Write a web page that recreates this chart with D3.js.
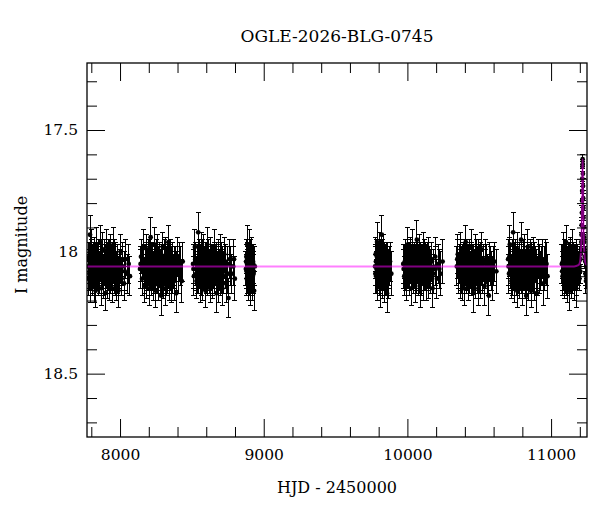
<!DOCTYPE html>
<html>
<head>
<meta charset="utf-8">
<script src="https://cdn.jsdelivr.net/npm/d3@7"></script>
<style>
  body { margin: 0; background: #fff; }
  svg text { font-family: "DejaVu Serif", serif; fill: #000; }
</style>
</head>
<body>
<div id="chart"></div>
<script>
// ----------------------------------------------
// Data: [HJD - 2450000, I mag, error], one array per observing season
// ----------------------------------------------
const season1 = [
  [7778,18.06,.07],[7782,18.11,.07],[7785,18.02,.06],[7789,18.08,.07],[7791,17.93,.08],[7793,18.13,.08],[7797,18.04,.06],[7800,18.09,.07],[7804,17.98,.07],[7808,18.12,.06],[7811,18.05,.07],[7815,18.02,.06],[7819,18.14,.07],[7822,18.00,.06],[7826,18.08,.07],[7830,18.16,.07],[7833,18.05,.06],[7837,17.97,.07],[7841,18.10,.06],[7844,18.06,.08],[7848,18.12,.06],[7852,18.01,.06],[7855,18.07,.07],[7859,18.11,.06],[7863,17.96,.07],[7866,18.06,.06],[7870,18.15,.07],[7874,18.03,.06],[7877,18.09,.06],[7881,17.99,.07],[7885,18.07,.06],[7888,18.12,.07],[7892,18.03,.06],[7896,18.17,.07],[7899,18.05,.06],[7903,18.09,.06],[7907,17.98,.07],[7910,18.13,.06],[7914,18.06,.07],[7918,18.01,.06],[7921,18.10,.06],[7925,18.07,.07],[7929,18.14,.06],[7932,18.00,.07],[7936,18.06,.06],[7940,18.10,.06],[7943,18.04,.07],[7947,18.15,.06],[7951,18.07,.06],[7954,17.97,.07],[7958,18.11,.06],[7962,18.05,.07],[7965,18.09,.06],[7969,18.02,.06],[7973,18.13,.07],[7976,18.06,.06],[7980,18.10,.07],[7984,18.03,.06],[7988,18.16,.07],[7993,18.05,.06],[7998,18.08,.07],[8004,18.00,.07],[8011,18.11,.07],[8019,18.06,.08],[8028,18.13,.07],[8038,18.03,.08],[8049,18.09,.08],[8060,18.05,.08],[8069,18.10,.08],
  [7780,18.03,.07],[7787,18.09,.07],[7795,18.06,.07],[7802,18.02,.07],[7806,18.10,.07],[7813,18.07,.07],[7817,18.04,.07],[7824,18.11,.07],[7828,18.03,.07],[7835,18.08,.07],[7839,18.05,.07],[7846,18.09,.07],[7850,18.04,.07],[7857,18.07,.07],[7861,18.02,.07],[7868,18.10,.07],[7872,18.06,.07],[7879,18.04,.07],[7883,18.11,.07],[7890,18.07,.07],[7894,18.02,.07],[7901,18.08,.07],[7905,18.05,.07],[7912,18.03,.07],[7916,18.09,.07],[7923,18.05,.07],[7927,18.02,.07],[7934,18.10,.07],[7938,18.07,.07],[7945,18.03,.07],[7949,18.09,.07],[7956,18.06,.07],[7960,18.02,.07],[7967,18.11,.07],[7971,18.05,.07],[7978,18.08,.07],[7982,18.04,.07],[7990,18.09,.07],[8001,18.06,.07],[8015,18.03,.07],[8033,18.08,.08]
];
const season2 = [
  [8139,18.07,.08],[8146,18.02,.07],[8153,18.11,.07],[8159,18.05,.07],[8164,17.98,.07],[8168,18.09,.06],[8172,18.14,.07],[8176,18.03,.06],[8180,18.07,.06],[8183,18.12,.07],[8187,17.99,.06],[8191,18.06,.07],[8194,18.10,.06],[8198,18.04,.06],[8202,18.15,.07],[8205,18.01,.06],[8209,18.08,.07],[8213,17.94,.08],[8216,18.12,.06],[8220,18.05,.06],[8224,18.09,.07],[8227,18.02,.06],[8231,18.13,.07],[8235,18.06,.06],[8238,17.97,.07],[8242,18.10,.06],[8246,18.05,.07],[8249,18.16,.07],[8253,18.03,.06],[8257,18.08,.06],[8260,18.00,.07],[8264,18.11,.06],[8268,18.06,.07],[8271,18.14,.06],[8275,18.02,.06],[8279,18.09,.07],[8282,18.05,.06],[8286,18.18,.08],[8290,18.04,.06],[8293,18.10,.07],[8297,17.98,.06],[8301,18.07,.06],[8304,18.12,.07],[8308,18.03,.06],[8312,18.08,.06],[8315,18.15,.07],[8319,18.01,.07],[8323,18.06,.06],[8326,18.11,.07],[8330,18.04,.06],[8334,18.09,.06],[8337,17.96,.07],[8341,18.13,.07],[8345,18.06,.06],[8348,18.02,.07],[8352,18.10,.06],[8356,18.07,.07],[8360,18.14,.07],[8365,18.03,.07],[8370,18.08,.07],[8376,18.12,.08],[8383,18.05,.07],[8391,18.17,.08],[8400,18.02,.08],[8410,18.09,.08],[8421,18.06,.08],[8430,18.12,.09],[8436,18.04,.08],
  [8143,18.05,.07],[8156,18.08,.07],[8166,18.04,.07],[8170,18.10,.07],[8178,18.06,.07],[8185,18.03,.07],[8189,18.09,.07],[8196,18.07,.07],[8200,18.02,.07],[8207,18.11,.07],[8211,18.05,.07],[8218,18.08,.07],[8222,18.03,.07],[8229,18.07,.07],[8233,18.10,.07],[8240,18.04,.07],[8244,18.08,.07],[8251,18.06,.07],[8255,18.02,.07],[8262,18.09,.07],[8266,18.05,.07],[8273,18.07,.07],[8277,18.03,.07],[8284,18.11,.07],[8288,18.06,.07],[8295,18.04,.07],[8299,18.09,.07],[8306,18.06,.07],[8310,18.02,.07],[8317,18.08,.07],[8321,18.05,.07],[8328,18.10,.07],[8332,18.03,.07],[8339,18.07,.07],[8343,18.04,.07],[8350,18.09,.07],[8358,18.05,.07],[8367,18.10,.07],[8379,18.06,.08],[8395,18.08,.08],[8415,18.04,.08]
];
const season3 = [
  [8508,18.05,.08],[8514,18.10,.08],[8521,17.98,.07],[8527,18.07,.07],[8532,18.12,.07],[8536,18.03,.06],[8540,18.08,.07],[8544,17.92,.08],[8547,18.11,.06],[8551,18.05,.07],[8555,18.01,.06],[8558,18.14,.07],[8562,18.06,.06],[8566,17.99,.07],[8569,18.09,.06],[8573,18.04,.06],[8577,18.13,.07],[8580,18.07,.06],[8584,18.00,.07],[8588,18.10,.06],[8591,18.05,.07],[8595,18.16,.07],[8599,18.02,.06],[8602,18.08,.06],[8606,17.97,.07],[8610,18.12,.06],[8613,18.06,.07],[8617,18.03,.06],[8621,18.11,.06],[8624,18.07,.07],[8628,18.15,.06],[8632,18.01,.07],[8635,18.06,.06],[8639,18.09,.06],[8643,18.04,.07],[8646,18.13,.06],[8650,18.07,.06],[8654,17.98,.07],[8657,18.11,.06],[8661,18.05,.07],[8665,18.08,.06],[8668,18.02,.06],[8672,18.17,.08],[8676,18.06,.06],[8679,18.10,.07],[8683,18.03,.06],[8687,18.14,.07],[8690,18.05,.06],[8694,18.09,.06],[8698,18.00,.07],[8701,18.12,.06],[8705,18.07,.07],[8709,18.04,.06],[8712,18.15,.07],[8716,18.06,.07],[8720,18.10,.07],[8725,18.01,.07],[8731,18.08,.07],[8738,18.13,.08],[8746,18.05,.07],[8755,18.19,.08],[8765,18.03,.08],[8776,18.09,.08],[8788,18.06,.08],[8799,18.11,.09],
  [8511,18.07,.08],[8524,18.03,.07],[8530,18.09,.07],[8538,18.05,.07],[8542,18.10,.07],[8549,18.03,.07],[8553,18.08,.07],[8560,18.04,.07],[8564,18.11,.07],[8571,18.06,.07],[8575,18.02,.07],[8582,18.09,.07],[8586,18.05,.07],[8593,18.07,.07],[8597,18.03,.07],[8604,18.10,.07],[8608,18.05,.07],[8615,18.08,.07],[8619,18.02,.07],[8626,18.06,.07],[8630,18.09,.07],[8637,18.04,.07],[8641,18.11,.07],[8648,18.05,.07],[8652,18.08,.07],[8659,18.03,.07],[8663,18.07,.07],[8670,18.10,.07],[8674,18.04,.07],[8681,18.07,.07],[8685,18.02,.07],[8692,18.09,.07],[8696,18.06,.07],[8703,18.03,.07],[8707,18.10,.07],[8714,18.05,.07],[8722,18.08,.07],[8735,18.04,.07],[8750,18.09,.08],[8770,18.06,.08],[8793,18.03,.08]
];
const season4 = [
  [8876,18.07,.07],[8879,18.02,.07],[8882,18.11,.07],[8885,17.97,.08],[8888,18.06,.07],[8891,18.13,.07],[8894,18.04,.06],[8897,18.09,.07],[8900,17.99,.08],[8903,18.08,.07],[8906,18.15,.07],[8909,18.05,.06],[8912,18.10,.07],[8915,18.01,.07],[8918,18.07,.07],[8921,18.12,.08],[8925,18.04,.07],[8929,18.09,.08],[8933,18.16,.08],[8938,18.06,.08],
  [8877,18.04,.07],[8881,18.08,.07],[8884,18.05,.07],[8887,18.10,.07],[8890,18.03,.07],[8893,18.07,.07],[8896,18.05,.07],[8899,18.11,.07],[8902,18.04,.07],[8905,18.08,.07],[8908,18.02,.07],[8911,18.06,.07],[8914,18.09,.07],[8917,18.04,.07],[8920,18.07,.07],[8923,18.10,.08],[8927,18.05,.08],[8931,18.08,.08]
];
const season5 = [
  [9775,18.06,.08],[9779,18.01,.07],[9783,18.10,.07],[9786,18.04,.07],[9789,17.96,.08],[9792,18.08,.07],[9795,18.13,.07],[9798,18.03,.06],[9801,18.07,.07],[9804,17.99,.07],[9807,18.11,.07],[9810,18.05,.06],[9813,18.15,.08],[9816,18.02,.07],[9819,18.08,.07],[9822,17.93,.08],[9825,18.06,.07],[9828,18.12,.07],[9831,18.04,.06],[9834,18.09,.07],[9837,18.00,.07],[9840,18.14,.07],[9844,18.06,.07],[9848,18.10,.08],[9853,18.03,.07],[9858,18.17,.08],[9864,18.07,.08],[9871,18.11,.08],[9879,18.04,.08],[9888,18.09,.09],
  [9777,18.09,.08],[9781,18.04,.07],[9785,18.07,.07],[9788,18.02,.07],[9791,18.10,.07],[9794,18.05,.07],[9797,18.08,.07],[9800,18.03,.07],[9803,18.09,.07],[9806,18.06,.07],[9809,18.02,.07],[9812,18.07,.07],[9815,18.10,.07],[9818,18.04,.07],[9821,18.08,.07],[9824,18.05,.07],[9827,18.02,.07],[9830,18.09,.07],[9833,18.06,.07],[9836,18.04,.07],[9839,18.08,.07],[9842,18.03,.07],[9846,18.07,.08],[9850,18.05,.08],[9856,18.09,.08],[9861,18.04,.08],[9868,18.07,.08],[9875,18.06,.08]
];
const season6 = [
  [9971,18.05,.08],[9978,18.10,.08],[9985,18.02,.07],[9991,18.08,.07],[9996,18.13,.07],[10000,18.04,.07],[10004,17.97,.07],[10008,18.09,.06],[10011,18.06,.07],[10015,18.12,.06],[10019,18.01,.07],[10022,18.07,.06],[10026,18.15,.07],[10030,18.03,.06],[10033,18.09,.06],[10037,17.98,.07],[10041,18.11,.06],[10044,18.05,.07],[10048,18.08,.06],[10052,18.02,.06],[10055,18.14,.07],[10059,18.06,.06],[10063,18.10,.07],[10066,17.95,.08],[10070,18.07,.06],[10074,18.12,.06],[10077,18.04,.07],[10081,18.09,.06],[10085,18.00,.07],[10088,18.16,.07],[10092,18.06,.06],[10096,18.03,.06],[10099,18.11,.07],[10103,18.05,.06],[10107,18.08,.06],[10110,17.99,.07],[10114,18.13,.07],[10118,18.06,.06],[10121,18.02,.07],[10125,18.10,.06],[10129,18.07,.07],[10132,18.14,.06],[10136,18.04,.07],[10140,18.09,.06],[10144,18.01,.07],[10149,18.12,.07],[10154,18.06,.07],[10160,18.10,.07],[10167,18.03,.07],[10175,18.15,.08],[10184,18.07,.08],[10194,18.02,.08],[10205,18.11,.08],[10217,18.05,.08],[10230,18.09,.09],[10245,18.04,.09],
  [9974,18.07,.08],[9982,18.04,.07],[9988,18.09,.07],[9994,18.05,.07],[9998,18.02,.07],[10002,18.08,.07],[10006,18.05,.07],[10013,18.03,.07],[10017,18.09,.07],[10020,18.06,.07],[10024,18.02,.07],[10028,18.08,.07],[10035,18.05,.07],[10039,18.10,.07],[10046,18.03,.07],[10050,18.07,.07],[10057,18.04,.07],[10061,18.09,.07],[10068,18.05,.07],[10072,18.02,.07],[10079,18.08,.07],[10083,18.06,.07],[10090,18.03,.07],[10094,18.10,.07],[10101,18.07,.07],[10105,18.04,.07],[10112,18.06,.07],[10116,18.09,.07],[10123,18.03,.07],[10127,18.05,.07],[10134,18.08,.07],[10138,18.06,.07],[10142,18.03,.07],[10146,18.09,.07],[10151,18.05,.07],[10157,18.08,.07],[10164,18.06,.07],[10171,18.04,.08],[10180,18.09,.08],[10199,18.06,.08],[10222,18.07,.08]
];
const season7 = [
  [10344,18.06,.08],[10351,18.01,.08],[10358,18.10,.07],[10364,18.04,.07],[10369,18.12,.07],[10373,17.99,.07],[10377,18.07,.06],[10381,18.13,.07],[10384,18.03,.06],[10388,18.09,.06],[10392,18.05,.07],[10395,18.15,.07],[10399,18.01,.06],[10403,18.08,.06],[10406,17.96,.07],[10410,18.11,.06],[10414,18.06,.07],[10417,18.03,.06],[10421,18.10,.06],[10425,18.07,.07],[10428,18.14,.06],[10432,18.02,.07],[10436,18.06,.06],[10439,18.09,.06],[10443,17.98,.07],[10447,18.12,.06],[10450,18.05,.07],[10454,18.08,.06],[10458,18.17,.08],[10461,18.03,.06],[10465,18.10,.06],[10469,18.06,.07],[10472,18.00,.07],[10476,18.13,.06],[10480,18.07,.06],[10483,18.04,.07],[10487,18.11,.06],[10491,18.05,.06],[10494,18.15,.07],[10498,18.02,.07],[10502,18.08,.06],[10506,18.12,.07],[10511,18.06,.07],[10516,17.99,.07],[10522,18.10,.07],[10529,18.05,.07],[10537,18.14,.08],[10546,18.03,.08],[10556,18.09,.08],[10567,18.18,.08],[10579,18.06,.08],[10592,18.11,.09],[10606,18.04,.08],[10619,18.08,.09],
  [10347,18.03,.08],[10355,18.08,.07],[10361,18.06,.07],[10367,18.02,.07],[10371,18.09,.07],[10375,18.05,.07],[10379,18.10,.07],[10386,18.06,.07],[10390,18.03,.07],[10397,18.08,.07],[10401,18.05,.07],[10408,18.09,.07],[10412,18.03,.07],[10419,18.07,.07],[10423,18.04,.07],[10430,18.10,.07],[10434,18.05,.07],[10441,18.08,.07],[10445,18.03,.07],[10452,18.06,.07],[10456,18.10,.07],[10463,18.04,.07],[10467,18.08,.07],[10474,18.06,.07],[10478,18.02,.07],[10485,18.09,.07],[10489,18.05,.07],[10496,18.07,.07],[10500,18.04,.07],[10504,18.10,.07],[10508,18.03,.07],[10513,18.07,.07],[10519,18.05,.07],[10525,18.09,.07],[10533,18.04,.07],[10541,18.07,.08],[10551,18.05,.08],[10561,18.10,.08],[10573,18.04,.08],[10586,18.08,.08],[10599,18.06,.08]
];
const season8 = [
  [10701,18.03,.08],[10707,18.09,.08],[10713,17.97,.08],[10719,18.06,.07],[10724,18.12,.07],[10728,18.02,.07],[10732,18.08,.07],[10736,17.92,.08],[10739,18.10,.06],[10743,18.05,.07],[10747,18.14,.07],[10750,18.01,.06],[10754,18.07,.06],[10758,18.11,.07],[10761,18.04,.06],[10765,18.16,.07],[10769,17.99,.07],[10772,18.08,.06],[10776,18.06,.07],[10780,18.13,.06],[10783,18.02,.06],[10787,18.09,.07],[10791,17.95,.07],[10794,18.11,.06],[10798,18.05,.06],[10802,18.15,.07],[10805,18.03,.07],[10809,18.07,.06],[10813,18.10,.06],[10816,18.00,.07],[10820,18.12,.07],[10824,18.06,.06],[10827,18.18,.08],[10831,18.04,.06],[10835,18.09,.07],[10838,17.98,.07],[10842,18.07,.06],[10846,18.13,.07],[10849,18.05,.06],[10853,18.10,.06],[10857,18.02,.07],[10861,18.16,.07],[10866,18.06,.07],[10871,18.09,.07],[10877,18.01,.07],[10884,18.12,.08],[10892,18.05,.07],[10901,18.17,.08],[10911,18.03,.08],[10922,18.09,.08],[10934,18.06,.08],[10947,18.13,.09],[10961,18.04,.09],[10975,18.10,.09],
  [10704,18.06,.08],[10710,18.02,.08],[10716,18.08,.07],[10721,18.04,.07],[10726,18.09,.07],[10730,18.05,.07],[10734,18.11,.07],[10741,18.07,.07],[10745,18.03,.07],[10752,18.09,.07],[10756,18.05,.07],[10763,18.08,.07],[10767,18.04,.07],[10774,18.10,.07],[10778,18.03,.07],[10785,18.06,.07],[10789,18.09,.07],[10796,18.04,.07],[10800,18.07,.07],[10807,18.02,.07],[10811,18.08,.07],[10818,18.05,.07],[10822,18.10,.07],[10829,18.06,.07],[10833,18.03,.07],[10840,18.09,.07],[10844,18.05,.07],[10851,18.07,.07],[10855,18.04,.07],[10859,18.10,.07],[10863,18.03,.07],[10868,18.08,.07],[10874,18.05,.07],[10880,18.09,.08],[10888,18.04,.08],[10896,18.07,.08],[10906,18.10,.08],[10916,18.05,.08],[10928,18.08,.08],[10940,18.03,.08],[10954,18.07,.09],[10968,18.05,.09]
];
const season9 = [
  [11075,18.05,.08],[11080,18.10,.08],[11085,17.99,.07],[11089,18.07,.07],[11093,18.12,.07],[11097,18.03,.07],[11100,18.08,.06],[11104,17.96,.07],[11107,18.11,.07],[11111,18.05,.06],[11114,18.14,.07],[11118,18.02,.06],[11121,18.08,.07],[11125,18.06,.06],[11128,18.16,.08],[11132,18.01,.07],[11135,18.09,.06],[11139,18.04,.07],[11142,18.12,.07],[11146,18.06,.06],[11149,17.98,.07],[11153,18.10,.06],[11156,18.07,.07],[11160,18.13,.07],[11163,18.03,.06],[11167,18.08,.07],[11170,18.05,.06],[11174,18.15,.08],[11177,18.02,.07],[11181,18.09,.07],[11184,18.06,.07],
  [11077,18.08,.08],[11082,18.04,.07],[11087,18.09,.07],[11091,18.05,.07],[11095,18.02,.07],[11099,18.10,.07],[11102,18.06,.07],[11106,18.03,.07],[11109,18.08,.07],[11113,18.05,.07],[11116,18.10,.07],[11120,18.04,.07],[11123,18.07,.07],[11127,18.03,.07],[11130,18.09,.07],[11134,18.06,.07],[11137,18.02,.07],[11141,18.08,.07],[11144,18.05,.07],[11148,18.10,.07],[11151,18.04,.07],[11155,18.07,.07],[11158,18.03,.07],[11162,18.09,.07],[11165,18.06,.07],[11169,18.04,.07],[11172,18.08,.07],[11176,18.05,.07],[11179,18.11,.07],[11183,18.04,.07],[11186,18.08,.07]
];
const eventPoints = [
  [11188,18.05,.05],[11192,18.07,.05],[11195,18.04,.05],[11198,18.06,.05],[11201,18.03,.05],[11204,18.03,.04],[11206,18.01,.04],[11208,17.99,.04],[11210,17.96,.04],[11211.5,17.93,.04],[11213,17.89,.03],[11214.5,17.84,.03],[11215.5,17.79,.03],[11216.5,17.75,.03],[11217.5,17.70,.03],[11218.5,17.65,.02],[11219.6,17.62,.02],[11220.5,17.64,.02],[11221.5,17.68,.03],[11222.5,17.73,.03],[11223.5,17.78,.03],[11224.5,17.82,.03],[11225.5,17.86,.03],[11227,17.90,.03],[11228.5,17.94,.04],[11230,17.96,.04],[11232,17.99,.04],[11235,18.02,.04],[11238,18.04,.05],[11241,18.03,.05],[11244,18.06,.05],[11247,18.05,.05],
  [11190,18.09,.05],[11197,18.11,.05],[11203,18.08,.05],[11239,18.09,.05],[11243,18.12,.05],[11246,18.10,.05]
];

// model curve
const modelHJD = [7770, 11160, 11190, 11200, 11207, 11211, 11214, 11216, 11218, 11219.6, 11221, 11223, 11225, 11228, 11232, 11239, 11250];
const modelMag = [18.06, 18.06, 18.055, 18.045, 18.01, 17.95, 17.86, 17.76, 17.66, 17.62, 17.66, 17.76, 17.86, 17.95, 18.01, 18.045, 18.055];

const xMajorTicks = [8000, 9000, 10000, 11000];
const xMinorTicks = [7800, 8200, 8400, 8600, 8800, 9200, 9400, 9600, 9800, 10200, 10400, 10600, 10800, 11200];
const yMajorTicks = [17.5, 18, 18.5];
const yMinorTicks = [17.3, 17.4, 17.6, 17.7, 17.8, 17.9, 18.1, 18.2, 18.3, 18.4, 18.6, 18.7];

const titleText = 'OGLE-2026-BLG-0745';
const xLabel = 'HJD - 2450000';
const yLabel = 'I magnitude';

// ----------------------------------------------
// Layout
// ----------------------------------------------
const width = 600, height = 512;
const plot = { left: 87, right: 587, top: 63, bottom: 437 };

const x = d3.scaleLinear().domain([7770, 11250]).range([plot.left, plot.right]);
const y = d3.scaleLinear().domain([17.225, 18.76]).range([plot.top, plot.bottom]);

const svg = d3.select('#chart').append('svg')
  .attr('width', width)
  .attr('height', height);

svg.append('defs').append('clipPath').attr('id', 'clip')
  .append('rect')
  .attr('x', plot.left).attr('y', plot.top)
  .attr('width', plot.right - plot.left)
  .attr('height', plot.bottom - plot.top);

// ----------------------------------------------
// Data points with error bars
// ----------------------------------------------
const allSeasons = [season1, season2, season3, season4, season5, season6, season7, season8, season9, eventPoints];
const points = allSeasons.flat().map(([t, m, e]) => ({ t, m, e }));

const dataG = svg.append('g').attr('clip-path', 'url(#clip)');
const capHalf = 2.5;

const bars = dataG.append('g')
  .attr('stroke', '#000')
  .attr('stroke-width', 1)
  .attr('shape-rendering', 'crispEdges');

bars.selectAll('line.err')
  .data(points)
  .join('line')
  .attr('class', 'err')
  .attr('x1', d => x(d.t)).attr('x2', d => x(d.t))
  .attr('y1', d => y(d.m - d.e)).attr('y2', d => y(d.m + d.e));

bars.selectAll('line.capTop')
  .data(points)
  .join('line')
  .attr('class', 'capTop')
  .attr('x1', d => x(d.t) - capHalf).attr('x2', d => x(d.t) + capHalf)
  .attr('y1', d => y(d.m - d.e)).attr('y2', d => y(d.m - d.e));

bars.selectAll('line.capBot')
  .data(points)
  .join('line')
  .attr('class', 'capBot')
  .attr('x1', d => x(d.t) - capHalf).attr('x2', d => x(d.t) + capHalf)
  .attr('y1', d => y(d.m + d.e)).attr('y2', d => y(d.m + d.e));

dataG.append('g')
  .selectAll('circle')
  .data(points)
  .join('circle')
  .attr('cx', d => x(d.t))
  .attr('cy', d => y(d.m))
  .attr('r', 2.4)
  .attr('fill', '#000');

// model line on top, half transparent magenta
const model = modelHJD.map((t, i) => ({ t, m: modelMag[i] }));
dataG.append('path')
  .datum(model)
  .attr('fill', 'none')
  .attr('stroke', '#ff00ff')
  .attr('stroke-opacity', 0.5)
  .attr('stroke-width', 2)
  .attr('d', d3.line().x(d => x(d.t)).y(d => y(d.m)).curve(d3.curveMonotoneX));

// ----------------------------------------------
// Axes (ticks inward on all four sides)
// ----------------------------------------------
const fmt = d => String(d);
const majorLen = 18, minorLen = 10;

function addAxis(axis, tx, ty, labels) {
  const g = svg.append('g')
    .attr('transform', `translate(${tx},${ty})`)
    .call(axis);
  g.select('.domain').remove();
  g.selectAll('line').attr('stroke', '#000');
  g.selectAll('text')
    .style('font-family', '"DejaVu Serif", serif')
    .style('font-size', '15.5px');
  if (!labels) g.selectAll('text').remove();
  return g;
}

addAxis(d3.axisBottom(x).tickValues(xMajorTicks).tickFormat(fmt).tickSize(-majorLen).tickPadding(12), 0, plot.bottom, true);
addAxis(d3.axisBottom(x).tickValues(xMinorTicks).tickSize(-minorLen), 0, plot.bottom, false);
addAxis(d3.axisTop(x).tickValues(xMajorTicks).tickSize(-majorLen), 0, plot.top, false);
addAxis(d3.axisTop(x).tickValues(xMinorTicks).tickSize(-minorLen), 0, plot.top, false);

addAxis(d3.axisLeft(y).tickValues(yMajorTicks).tickFormat(fmt).tickSize(-majorLen).tickPadding(9), plot.left, 0, true);
addAxis(d3.axisLeft(y).tickValues(yMinorTicks).tickSize(-minorLen), plot.left, 0, false);
addAxis(d3.axisRight(y).tickValues(yMajorTicks).tickSize(-majorLen), plot.right, 0, false);
addAxis(d3.axisRight(y).tickValues(yMinorTicks).tickSize(-minorLen), plot.right, 0, false);

svg.append('rect')
  .attr('x', plot.left).attr('y', plot.top)
  .attr('width', plot.right - plot.left)
  .attr('height', plot.bottom - plot.top)
  .attr('fill', 'none')
  .attr('stroke', '#000')
  .attr('stroke-width', 1.3);

// ----------------------------------------------
// Labels
// ----------------------------------------------
svg.append('text')
  .attr('x', (plot.left + plot.right) / 2)
  .attr('y', 42)
  .attr('text-anchor', 'middle')
  .style('font-size', '17px')
  .text(titleText);

svg.append('text')
  .attr('x', (plot.left + plot.right) / 2)
  .attr('y', 493)
  .attr('text-anchor', 'middle')
  .style('font-size', '16px')
  .text(xLabel);

svg.append('text')
  .attr('transform', `translate(27,${(plot.top + plot.bottom) / 2 - 5}) rotate(-90)`)
  .attr('text-anchor', 'middle')
  .style('font-size', '16px')
  .text(yLabel);
</script>
</body>
</html>
